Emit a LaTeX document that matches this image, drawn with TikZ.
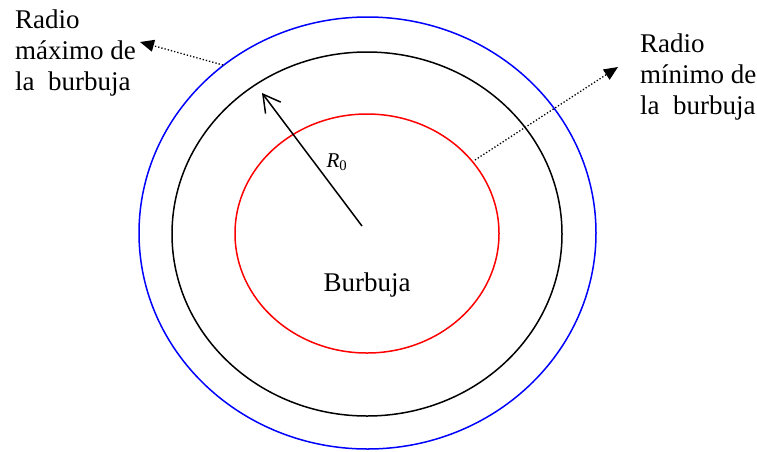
\documentclass[tikz,border=0pt]{standalone}
\usepackage{fontspec}
\setmainfont{Liberation Serif}
\usetikzlibrary{arrows.meta}
\definecolor{maxblue}{HTML}{0000FF}
\definecolor{minred}{HTML}{FF0000}
\tikzset{
  ring/.style={line width=1.5pt},
  lbl/.style={inner sep=0pt, align=left, font=\rmfamily\fontsize{27}{31}\selectfont},
  pointer/.style={dotted, line width=1.3pt, -{Triangle[length=14pt,width=12pt]}},
}

\begin{document}
\begin{tikzpicture}[x=1pt,y=-1pt]
  \useasboundingbox (0,0) rectangle (757,451);
  \draw[ring, maxblue] (367.5,233) ellipse [x radius=228.5, y radius=216];
  \draw[ring] (367,234) ellipse [x radius=195, y radius=182];
  \draw[ring, minred] (367,233.5) ellipse [x radius=132, y radius=119.5];
  % radio inicial
  \coordinate (centre) at (362,226);
  \coordinate (rtip) at (262,93);
  \draw[line width=1.5pt, -{Straight Barb[length=17pt,width=19pt]}] (centre) -- (rtip);
  \node[font=\rmfamily\fontsize{21}{21}\selectfont] (rlabel) at (337,162) {\textit{R}\textsubscript{0}};
  \node[font=\rmfamily\fontsize{27}{30}\selectfont] (bubble) at (367,285) {Burbuja};
  % etiquetas
  \node[lbl, anchor=north west] (maxlabel) at (15,10) {Radio\\máximo de\\la\ \ burbuja};
  \node[lbl, anchor=north west] (minlabel) at (640,34) {Radio\\mínimo de\\la\ \ burbuja};
  \coordinate (maxfoot) at (223,65);
  \coordinate (maxtip) at (140,42);
  \coordinate (minfoot) at (475,160);
  \coordinate (mintip) at (618,67);
  \draw[pointer] (maxfoot) -- (maxtip);
  \draw[pointer] (minfoot) -- (mintip);
\end{tikzpicture}
\end{document}
